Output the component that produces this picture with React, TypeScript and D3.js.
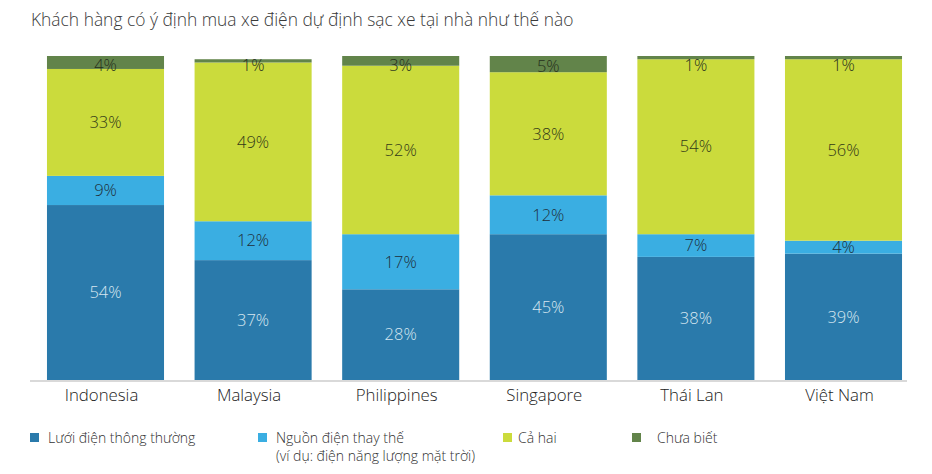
import React from "react";
import * as d3 from "d3";

const categories = ["Indonesia", "Malaysia", "Philippines", "Singapore", "Thái Lan", "Việt Nam"];
const seriesNames = ["Lưới điện thông thường", "Nguồn điện thay thế", "Cả hai", "Chưa biết"];
const gridValues = [54, 37, 28, 45, 38, 39];
const altValues = [9, 12, 17, 12, 7, 4];
const bothValues = [33, 49, 52, 38, 54, 56];
const unknownValues = [4, 1, 3, 5, 1, 1];
const title = "Khách hàng có ý định mua xe điện dự định sạc xe tại nhà như thế nào";

const colors = ["#2a7aab", "#3aaee2", "#cbdb3c", "#62844a"];
const labelColors = ["#d6e6f0", "#1f2f3a", "#333a18", "#26301c"];
const W = 932;
const H = 474;
const FONT = "'Open Sans', 'Noto Sans', sans-serif";

export default function App() {
  const rows = categories.map((c, i) => ({
    cat: c,
    s0: gridValues[i],
    s1: altValues[i],
    s2: bothValues[i],
    s3: unknownValues[i],
  }));
  const stack = d3.stack<any>().keys(["s0", "s1", "s2", "s3"]);
  const series = stack(rows);

  const x = d3
    .scaleBand<string>()
    .domain(categories)
    .range([31.7, 917.3])
    .paddingInner(0.207)
    .paddingOuter(0.1035);
  const y = d3.scaleLinear().domain([0, 100]).range([380, 56]);

  const legendItems = [
    { x: 30, tx: 48, lines: ["Lưới điện thông thường"] },
    { x: 258, tx: 276, lines: ["Nguồn điện thay thế", "(ví dụ: điện năng lượng mặt trời)"] },
    { x: 503, tx: 518, lines: ["Cả hai"] },
    { x: 632, tx: 657, lines: ["Chưa biết"] },
  ];

  return (
    <svg width={W} height={H} style={{ position: "absolute", left: 0, top: 0, background: "#fff" }}>
      <text x={31} y={26} fontFamily={FONT} fontWeight={300} fontSize={17.4} fill="#3a3a3a">
        {title}
      </text>
      {series.map((s, si) =>
        s.map((d, i) => {
          const cat = categories[i];
          const x0 = x(cat)!;
          const top = y(d[1]);
          const bot = y(d[0]);
          return (
            <rect
              key={`${si}-${i}`}
              x={x0}
              y={top}
              width={x.bandwidth()}
              height={bot - top}
              fill={colors[si]}
            />
          );
        })
      )}
      {series.map((s, si) =>
        s.map((d, i) => {
          const cat = categories[i];
          const top = y(d[1]);
          const bot = y(d[0]);
          let cy = (top + bot) / 2;
          if (si === 3) cy = Math.max(cy + 2, 65);
          const v = d[1] - d[0];
          return (
            <text
              key={`l-${si}-${i}`}
              x={x(cat)! + x.bandwidth() / 2}
              y={cy}
              dy="0.35em"
              textAnchor="middle"
              fontFamily={FONT}
              fontWeight={300}
              fontSize={16.5}
              fill={labelColors[si]}
            >
              {`${v}%`}
            </text>
          );
        })
      )}
      <line x1={30} x2={907} y1={381} y2={381} stroke="#cccccc" strokeWidth={1.5} />
      {categories.map((c) => (
        <text
          key={c}
          x={x(c)! + x.bandwidth() / 2 - 4}
          y={401}
          textAnchor="middle"
          fontFamily={FONT}
          fontWeight={300}
          fontSize={16.8}
          fill="#222"
        >
          {c}
        </text>
      ))}
      {legendItems.map((it, i) => (
        <g key={seriesNames[i]}>
          <rect x={it.x} y={433} width={9} height={9} fill={colors[i]} />
          {it.lines.map((ln, li) => (
            <text
              key={li}
              x={it.tx}
              y={443 + li * 18}
              fontFamily={FONT}
              fontWeight={300}
              fontSize={14}
              fill="#333"
            >
              {ln}
            </text>
          ))}
        </g>
      ))}
    </svg>
  );
}
